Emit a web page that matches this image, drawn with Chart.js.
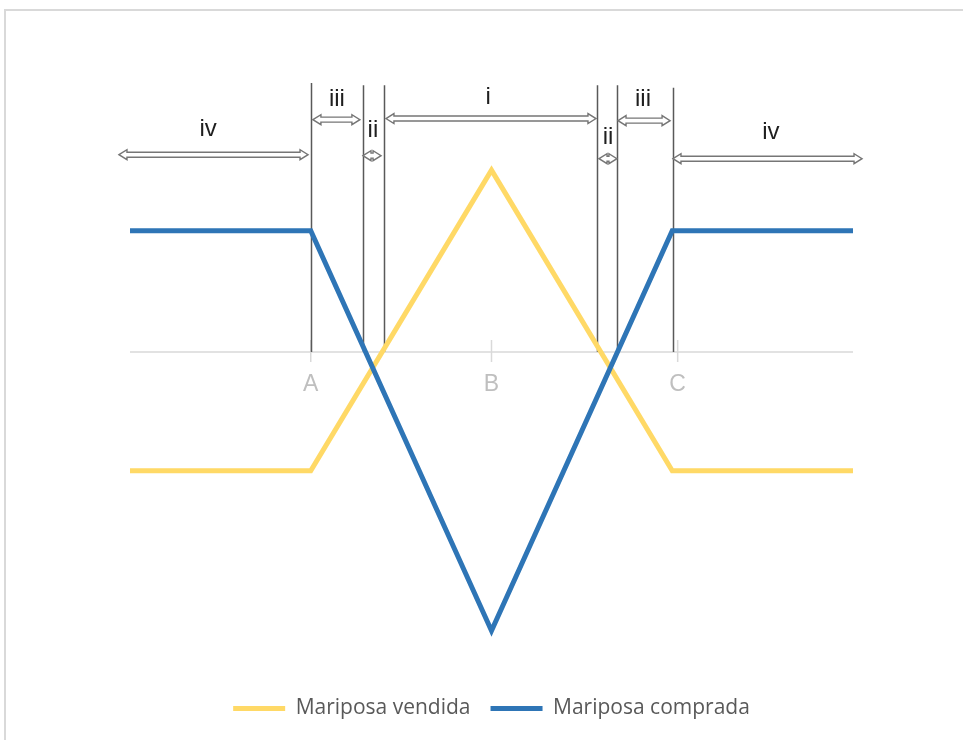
<!DOCTYPE html>
<html>
<head>
<title>Mariposa</title>
<style>
  body { margin: 0; background: #fff; overflow: hidden; }
  #frame { position: absolute; left: 4px; top: 9px; width: 1000px; height: 800px; border: 2px solid #d9d9d9; }
  #wrap { position: absolute; left: 0; top: 0; width: 963px; height: 740px; }
</style>
</head>
<body>
<div id="frame"></div>
<div id="wrap"><canvas id="chart"></canvas></div>
<script src="https://cdn.jsdelivr.net/npm/chart.js"></script>
<script>
// payoff points
const xPoints = [0, 1, 2, 3, 4];
const sold = [-0.98, -0.98, 1.5, -0.98, -0.98];
const bought = [1, 1, -2.3, 1, 1];

// axis ticks
const tickPos = [1, 2, 3.03];
const tickText = ['A', 'B', 'C'];

// vertical dividers (data units)
const dividerX = [1, 1.287, 1.403, 2.586, 2.696, 3.005];
const dividerTop = [2.22, 2.2, 2.2, 2.2, 2.2, 2.18];

// zone arrows
const arrowFrom = [-0.061, 1.012, 1.289, 1.416, 2.595, 2.70, 3.004];
const arrowTo = [0.985, 1.272, 1.389, 2.578, 2.694, 2.988, 4.05];
const arrowY = [1.628, 1.917, 1.62, 1.926, 1.595, 1.909, 1.595];

// zone labels
const zoneText = ['iv', 'iii', 'ii', 'i', 'ii', 'iii', 'iv'];
const zoneX = [0.432, 1.145, 1.344, 1.981, 2.645, 2.838, 3.546];
const zoneY = [1.835, 2.083, 1.826, 2.1, 1.769, 2.083, 1.81];

function toXY(ys) { return xPoints.map((x, i) => ({ x: x, y: ys[i] })); }

function drawArrow(ctx, x1, x2, y) {
  const sh = 2.5, hh = 5, hl = Math.min(8, (x2 - x1) / 2);
  ctx.beginPath();
  ctx.moveTo(x1, y);
  ctx.lineTo(x1 + hl, y - hh);
  ctx.lineTo(x1 + hl, y - sh);
  ctx.lineTo(x2 - hl, y - sh);
  ctx.lineTo(x2 - hl, y - hh);
  ctx.lineTo(x2, y);
  ctx.lineTo(x2 - hl, y + hh);
  ctx.lineTo(x2 - hl, y + sh);
  ctx.lineTo(x1 + hl, y + sh);
  ctx.lineTo(x1 + hl, y + hh);
  ctx.closePath();
  ctx.fillStyle = '#ffffff';
  ctx.fill();
  ctx.lineWidth = 1.4;
  ctx.strokeStyle = '#767676';
  ctx.stroke();
}

const marks = {
  id: 'marks',
  beforeDatasetsDraw(chart) {
    const ctx = chart.ctx, xs = chart.scales.x, ys = chart.scales.y;
    const y0 = ys.getPixelForValue(0);
    ctx.save();
    // zero axis
    ctx.strokeStyle = '#d9d9d9';
    ctx.lineWidth = 1.5;
    ctx.beginPath();
    ctx.moveTo(xs.left, y0);
    ctx.lineTo(xs.right, y0);
    tickPos.forEach(t => {
      const px = xs.getPixelForValue(t);
      ctx.moveTo(px, y0 - 12);
      ctx.lineTo(px, y0 + 10);
    });
    ctx.stroke();
    ctx.fillStyle = '#bfbfbf';
    ctx.font = '23px "Liberation Sans"';
    ctx.textAlign = 'center';
    ctx.textBaseline = 'middle';
    tickText.forEach((t, i) => ctx.fillText(t, xs.getPixelForValue(tickPos[i]), y0 + 33));
    // dividers
    ctx.strokeStyle = '#595959';
    ctx.lineWidth = 1.5;
    ctx.beginPath();
    dividerX.forEach((d, i) => {
      const px = Math.round(xs.getPixelForValue(d)) + 0.5;
      ctx.moveTo(px, ys.getPixelForValue(dividerTop[i]));
      ctx.lineTo(px, y0);
    });
    ctx.stroke();
    ctx.restore();
  },
  afterDatasetsDraw(chart) {
    const ctx = chart.ctx, xs = chart.scales.x, ys = chart.scales.y;
    ctx.save();
    arrowFrom.forEach((a, i) => drawArrow(ctx, xs.getPixelForValue(a), xs.getPixelForValue(arrowTo[i]), ys.getPixelForValue(arrowY[i])));
    ctx.fillStyle = '#1f1f1f';
    ctx.font = '24px "Liberation Sans"';
    ctx.textAlign = 'center';
    ctx.textBaseline = 'middle';
    zoneText.forEach((t, i) => ctx.fillText(t, xs.getPixelForValue(zoneX[i]), ys.getPixelForValue(zoneY[i])));
    ctx.restore();
  }
};

new Chart(document.getElementById('chart'), {
  type: 'line',
  data: {
    datasets: [{
      label: 'Mariposa vendida',
      data: toXY(sold),
      borderColor: '#ffd966',
      backgroundColor: '#ffd966',
      borderWidth: 5,
      pointRadius: 0,
      order: 1
    }, {
      label: 'Mariposa comprada',
      data: toXY(bought),
      borderColor: '#2e75b6',
      backgroundColor: '#2e75b6',
      borderWidth: 5,
      pointRadius: 0,
      order: 0
    }]
  },
  options: {
    responsive: true,
    maintainAspectRatio: false,
    animation: false,
    layout: { padding: { left: 130, right: 110, top: 49, bottom: 11 } },
    scales: {
      x: { type: 'linear', min: 0, max: 4, display: false },
      y: { min: -2.69, max: 2.5, display: false }
    },
    plugins: {
      tooltip: { enabled: false },
      legend: {
        position: 'bottom',
        labels: {
          boxWidth: 52,
          boxHeight: 5,
          padding: 20,
          color: '#595959',
          font: { family: '"Open Sans"', size: 21 },
          sort: (a, b) => a.datasetIndex - b.datasetIndex,
          generateLabels: chart => Chart.defaults.plugins.legend.labels.generateLabels(chart).map(l => Object.assign(l, { lineWidth: 0 }))
        }
      }
    }
  },
  plugins: [marks]
});
</script>
</body>
</html>
